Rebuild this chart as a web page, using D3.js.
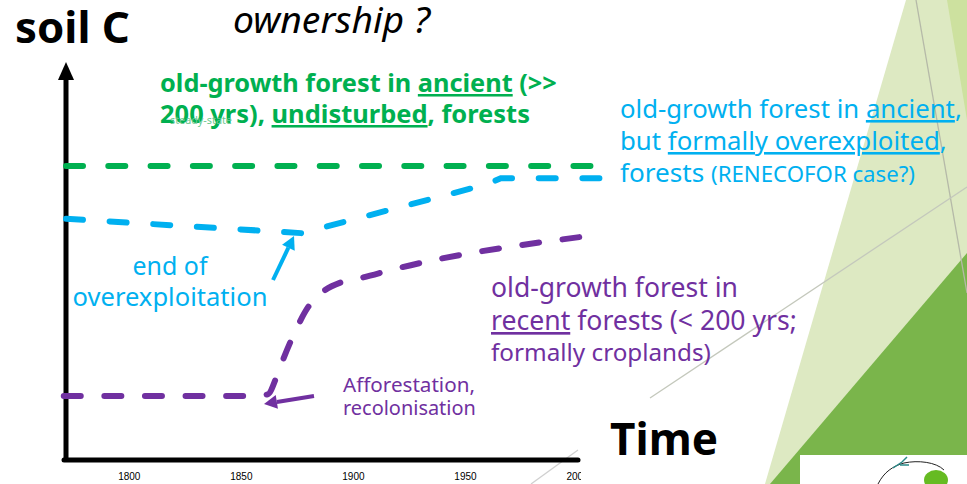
<!DOCTYPE html>
<html>
<head>
<meta charset="utf-8">
<script src="https://cdn.jsdelivr.net/npm/d3@7"></script>
<style>
  html, body { margin: 0; padding: 0; background: #fff; }
  svg { display: block; }
  .t { font-family: "Noto Sans", "Open Sans", sans-serif; }
</style>
</head>
<body>
<svg id="chart" width="967" height="484"></svg>
<script>
// ---- data ----
const tickYears = [1800, 1850, 1900, 1950, 2000];
const tickLabels = ["1800", "1850", "1900", "1950", "2000"];

// soil C (arbitrary units, 0-100) over time
const greenYears = [1772, 2006];
const greenValues = [73.9, 73.9];

const blueYears = [1772, 1877, 1960, 1966, 2010];
const blueValues = [60.6, 57.0, 69.3, 70.8, 70.8];

const purpleYears = [1771, 1856, 1862, 1866, 1868, 1874, 1880, 1886, 1895, 1904, 1918, 2001];
const purpleValues = [16.1, 16.1, 16.5, 21, 24, 32, 38.4, 42, 44.7, 45.8, 47.9, 56];

const GREEN = "#00b050", BLUE = "#00b0f0", PURPLE = "#7030a0";

const svg = d3.select("#chart");

// ---- slide decoration (background) ----
const deco = svg.append("g");
deco.append("polygon").attr("points", "906,0 967,0 967,484 765,484").attr("fill", "#dde9c2");
deco.append("polygon").attr("points", "947,0 967,0 967,120").attr("fill", "#cde19f");
deco.append("polygon").attr("points", "967,253 967,484 770,484").attr("fill", "#7ab54b");
deco.append("line").attr("x1", 916).attr("y1", 0).attr("x2", 967).attr("y2", 293)
  .attr("stroke", "#b5b9a8").attr("stroke-width", 1.3);
deco.append("line").attr("x1", 650).attr("y1", 398).attr("x2", 967).attr("y2", 187)
  .attr("stroke", "#c4c8bc").attr("stroke-width", 1.3);
deco.append("line").attr("x1", 531).attr("y1", 484).attr("x2", 578).attr("y2", 450)
  .attr("stroke", "#d0d0d0").attr("stroke-width", 1.3);
// logo box
deco.append("rect").attr("x", 800).attr("y", 455).attr("width", 167).attr("height", 29).attr("fill", "#fff");
deco.append("ellipse").attr("cx", 936).attr("cy", 480).attr("rx", 12).attr("ry", 10).attr("fill", "#66bb22");
deco.append("path").attr("d", "M878,484 C884,472 893,466 904,463 C918,460 936,462 944,470")
  .attr("fill", "none").attr("stroke", "#222").attr("stroke-width", 1);
deco.append("path").attr("d", "M893,468 L902,462 L907,457 M900,465 L909,465")
  .attr("fill", "none").attr("stroke", "#2a8a8a").attr("stroke-width", 1.5);

// ---- scales ----
const x = d3.scaleLinear().domain([1772, 2000]).range([66, 577]);
const y = d3.scaleLinear().domain([0, 100]).range([460, 62]);

// ---- axes ----
const axisG = svg.append("g");
axisG.append("line").attr("x1", 66).attr("y1", y(0) + 2).attr("x2", 66).attr("y2", 76)
  .attr("stroke", "#000").attr("stroke-width", 5);
axisG.append("polygon").attr("points", `66,${y(100)} 58,80 74,80`).attr("fill", "#000");
axisG.append("line").attr("x1", 64).attr("y1", y(0)).attr("x2", x(2000) + 1).attr("y2", y(0))
  .attr("stroke", "#000").attr("stroke-width", 5).attr("stroke-linecap", "round");

svg.append("clipPath").attr("id", "tickclip").append("rect")
  .attr("x", 0).attr("y", 0).attr("width", 581).attr("height", 484);

const xAxis = d3.axisBottom(x).tickValues(tickYears).tickFormat((d, i) => tickLabels[i])
  .tickSize(0).tickPadding(13);
const gx = svg.append("g").attr("transform", `translate(0,${y(0)})`)
  .attr("clip-path", "url(#tickclip)").call(xAxis);
gx.select(".domain").remove();
gx.selectAll("text").attr("font-family", "Liberation Sans, Arial, sans-serif")
  .attr("font-size", 10).attr("fill", "#000");
gx.selectAll(".tick").append("line").attr("y1", -23).attr("y2", 0)
  .attr("stroke", "#000").attr("stroke-width", 3.5);

// ---- series ----
function series(years, values, color, curve) {
  const pts = years.map((yr, i) => [yr, values[i]]);
  const line = d3.line().x(d => x(d[0])).y(d => y(d[1])).curve(curve);
  const p = svg.append("path").datum(pts).attr("d", line)
    .attr("fill", "none").attr("stroke", color).attr("stroke-width", 6)
    .attr("stroke-linecap", "round");
  // dash pattern stretched so a dash starts and ends the path
  const L = p.node().getTotalLength();
  const dash = 17;
  const n = Math.max(1, Math.round((L - dash) / 42));
  const period = (L - dash) / n;
  p.attr("stroke-dasharray", `${dash} ${period - dash}`);
}
series(greenYears, greenValues, GREEN, d3.curveLinear);
series(blueYears, blueValues, BLUE, d3.curveLinear);
series(purpleYears, purpleValues, PURPLE, d3.curveMonotoneX);

// ---- arrows ----
function arrow(x1, y1, x2, y2, color) {
  const a = Math.atan2(y2 - y1, x2 - x1);
  const L = 13, W = 7;
  const bx = x2 - L * Math.cos(a), by = y2 - L * Math.sin(a);
  svg.append("line").attr("x1", x1).attr("y1", y1).attr("x2", bx).attr("y2", by)
    .attr("stroke", color).attr("stroke-width", 4);
  const p1 = [bx + W * Math.sin(a), by - W * Math.cos(a)];
  const p2 = [bx - W * Math.sin(a), by + W * Math.cos(a)];
  svg.append("polygon").attr("points", `${x2},${y2} ${p1} ${p2}`).attr("fill", color);
}
arrow(273, 280, 294, 236, BLUE);
arrow(314, 396, 264, 404, PURPLE);

// ---- texts (fitted to the widths measured in the reference) ----
function txt(xp, yp, parts, opts) {
  const t = svg.append("text").attr("class", "t").attr("x", xp).attr("y", yp)
    .attr("fill", opts.fill).attr("font-size", opts.size)
    .attr("font-weight", opts.weight || "normal")
    .attr("font-style", opts.style || "normal");
  if (opts.anchor) t.attr("text-anchor", opts.anchor);
  const spans = parts.map(p => {
    const s = t.append("tspan").text(p.t);
    if (p.u) s.style("text-decoration", "underline");
    if (p.rel) s.attr("font-size", opts.size * p.rel);
    return {s, p};
  });
  if (opts.w) {
    const len = t.node().getComputedTextLength();
    const ns = opts.size * opts.w / len;
    t.attr("font-size", ns);
    spans.forEach(({s, p}) => { if (p.rel) s.attr("font-size", ns * p.rel); });
  }
  return t;
}

txt(15, 43, [{t: "soil C"}], {fill: "#000", size: 38, weight: "bold", w: 115});
txt(233, 33, [{t: "ownership ?"}], {fill: "#000", size: 31, style: "italic", w: 197});

txt(160, 92, [{t: "old-growth forest in "}, {t: "ancient", u: true}, {t: " (>>"}], {fill: GREEN, size: 22, weight: "bold", w: 397});
txt(160, 123, [{t: "200 yrs), "}, {t: "undisturbed", u: true}, {t: ", forests"}], {fill: GREEN, size: 22, weight: "bold", w: 370});
txt(170, 124, [{t: "steady-state"}], {fill: "#6cc890", size: 9, w: 62});

txt(620, 118, [{t: "old-growth forest in "}, {t: "ancient", u: true}, {t: ","}], {fill: BLUE, size: 22, w: 342});
txt(620, 150, [{t: "but "}, {t: "formally overexploited", u: true}, {t: ","}], {fill: BLUE, size: 22, w: 327});
txt(620, 182, [{t: "forests "}, {t: "(RENECOFOR case?)", rel: 0.85}], {fill: BLUE, size: 22, w: 295});

txt(170, 275, [{t: "end of"}], {fill: BLUE, size: 22, anchor: "middle", w: 75});
txt(170, 306, [{t: "overexploitation"}], {fill: BLUE, size: 22, anchor: "middle", w: 195});

txt(491, 297, [{t: "old-growth forest in"}], {fill: PURPLE, size: 22, w: 247});
txt(491, 330, [{t: "recent", u: true}, {t: " forests (< 200 yrs;"}], {fill: PURPLE, size: 22, w: 306});
txt(491, 361, [{t: "formally croplands)"}], {fill: PURPLE, size: 22, w: 220});

txt(343, 392, [{t: "Afforestation,"}], {fill: PURPLE, size: 17, w: 132});
txt(343, 415, [{t: "recolonisation"}], {fill: PURPLE, size: 17, w: 133});

txt(610, 455, [{t: "Time"}], {fill: "#000", size: 40, weight: "bold", w: 108});
</script>
</body>
</html>
